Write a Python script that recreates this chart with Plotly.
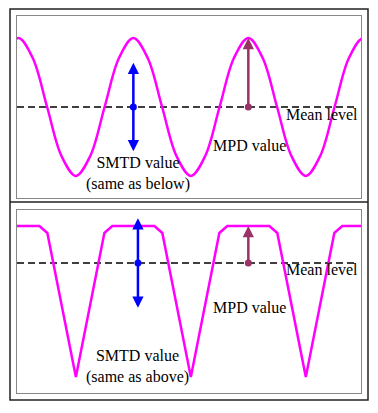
import plotly.graph_objects as go

# ---- data (profile position in wavelengths, height in relative units) ----
top_x = [-0.125, 0, 0.125, 0.25, 0.375, 0.5, 0.625, 0.75, 0.875, 1.0, 1.125, 1.25, 1.375,
         1.5, 1.625, 1.75, 1.875, 2.0, 2.125, 2.25, 2.375, 2.5, 2.625, 2.75, 2.875, 3.0, 3.125]
top_y = [0.71, 1, 0.71, 0, -0.71, -1, -0.71, 0, 0.71, 1, 0.71, 0, -0.71,
         -1, -0.71, 0, 0.71, 1, 0.71, 0, -0.71, -1, -0.71, 0, 0.71, 1, 0.71]

bot_x = [-0.1, 0.183, 0.252, 0.5, 0.748, 0.817, 1.183, 1.252, 1.5, 1.748, 1.817,
         2.183, 2.252, 2.5, 2.748, 2.817, 3.1]
bot_y = [0.536, 0.536, 0.435, -1.652, 0.435, 0.536, 0.536, 0.435, -1.652, 0.435, 0.536,
         0.536, 0.435, -1.652, 0.435, 0.536, 0.536]

mean_level = 0.0
smtd_top = 0.64
smtd_bot = 0.65
mpd_top = 1.0
mpd_bot = 0.536
smtd_x_top = 1.0
smtd_x_bot = 1.04
mpd_x = 2.0

MAG = "#FF00FF"
BLUE = "#0000FF"
MAROON = "#993366"
FONT = dict(family="Liberation Serif, Times New Roman, serif", size=16, color="black")

fig = go.Figure()

# mean level lines
for xa, ya in (("x", "y"), ("x2", "y2")):
    fig.add_trace(go.Scatter(x=[-0.012, 2.95], y=[mean_level, mean_level], mode="lines",
                             line=dict(color="black", width=1.6, dash="7px,4px"),
                             xaxis=xa, yaxis=ya, showlegend=False, hoverinfo="skip"))

fig.add_trace(go.Scatter(x=top_x, y=top_y, mode="lines", line=dict(color=MAG, width=2.5, shape="spline"),
                         xaxis="x", yaxis="y", showlegend=False))
fig.add_trace(go.Scatter(x=bot_x, y=bot_y, mode="lines", line=dict(color=MAG, width=2.5),
                         xaxis="x2", yaxis="y2", showlegend=False))

# dots
fig.add_trace(go.Scatter(x=[smtd_x_top], y=[mean_level], mode="markers", marker=dict(color=BLUE, size=7),
                         xaxis="x", yaxis="y", showlegend=False))
fig.add_trace(go.Scatter(x=[mpd_x], y=[mean_level], mode="markers", marker=dict(color=MAROON, size=7),
                         xaxis="x", yaxis="y", showlegend=False))
fig.add_trace(go.Scatter(x=[smtd_x_bot], y=[mean_level], mode="markers", marker=dict(color=BLUE, size=7),
                         xaxis="x2", yaxis="y2", showlegend=False))
fig.add_trace(go.Scatter(x=[mpd_x], y=[mean_level], mode="markers", marker=dict(color=MAROON, size=7),
                         xaxis="x2", yaxis="y2", showlegend=False))

annotations = []
def arrow(xr, yr, x, y0, y1, color):
    annotations.append(dict(x=x, y=y1, ax=x, ay=y0, xref=xr, yref=yr, axref=xr, ayref=yr,
                            showarrow=True, arrowhead=2, arrowsize=0.9, arrowwidth=2.5,
                            arrowcolor=color, text="", standoff=0, startstandoff=0))

arrow("x", "y", smtd_x_top, mean_level, smtd_top, BLUE)
arrow("x", "y", smtd_x_top, mean_level, -smtd_top, BLUE)
arrow("x", "y", mpd_x, mean_level, mpd_top, MAROON)
arrow("x2", "y2", smtd_x_bot, mean_level, smtd_bot, BLUE)
arrow("x2", "y2", smtd_x_bot, mean_level, -smtd_bot, BLUE)
arrow("x2", "y2", mpd_x, mean_level, mpd_bot, MAROON)

def label(xr, yr, x, y, text):
    annotations.append(dict(x=x, y=y, xref=xr, yref=yr, text=text, showarrow=False,
                            font=FONT, xanchor="center", yanchor="middle"))

label("x", "y", 2.64, -0.116, "Mean level")
label("x", "y", 2.014, -0.551, "MPD value")
label("x", "y", 1.04, -0.957, "SMTD value<br>(same as below)")
label("x2", "y2", 2.64, -0.101, "Mean level")
label("x2", "y2", 2.014, -0.638, "MPD value")
label("x2", "y2", 1.04, -1.5, "SMTD value<br>(same as above)")

W, H = 378, 413
ax_common = dict(showgrid=False, zeroline=False, showticklabels=False, ticks="",
                 showline=True, mirror=True, linecolor="#888888", linewidth=1)

fig.update_layout(
    width=W, height=H, margin=dict(l=0, r=0, t=0, b=0),
    paper_bgcolor="white", plot_bgcolor="white",
    xaxis=dict(domain=[17 / W, 361 / W], range=[-0.012, 2.98], anchor="y", **ax_common),
    yaxis=dict(domain=[1 - 198 / H, 1 - 16 / H], range=[-1.319, 1.319], anchor="x", **ax_common),
    xaxis2=dict(domain=[17 / W, 361 / W], range=[-0.012, 2.98], anchor="y2", **ax_common),
    yaxis2=dict(domain=[1 - 393 / H, 1 - 210 / H], range=[-1.884, 0.768], anchor="x2", **ax_common),
    annotations=annotations,
    shapes=[
        dict(type="rect", xref="paper", yref="paper", x0=10 / W, x1=368 / W,
             y0=1 - 400 / H, y1=1 - 9 / H, line=dict(color="#222222", width=1.5)),
        dict(type="line", xref="paper", yref="paper", x0=10 / W, x1=368 / W,
             y0=1 - 202 / H, y1=1 - 202 / H, line=dict(color="#222222", width=1.5)),
    ],
)

fig.write_html("out.html", config={"displayModeBar": False},
               post_script="document.body.style.margin='0';document.body.style.overflow='hidden';")
